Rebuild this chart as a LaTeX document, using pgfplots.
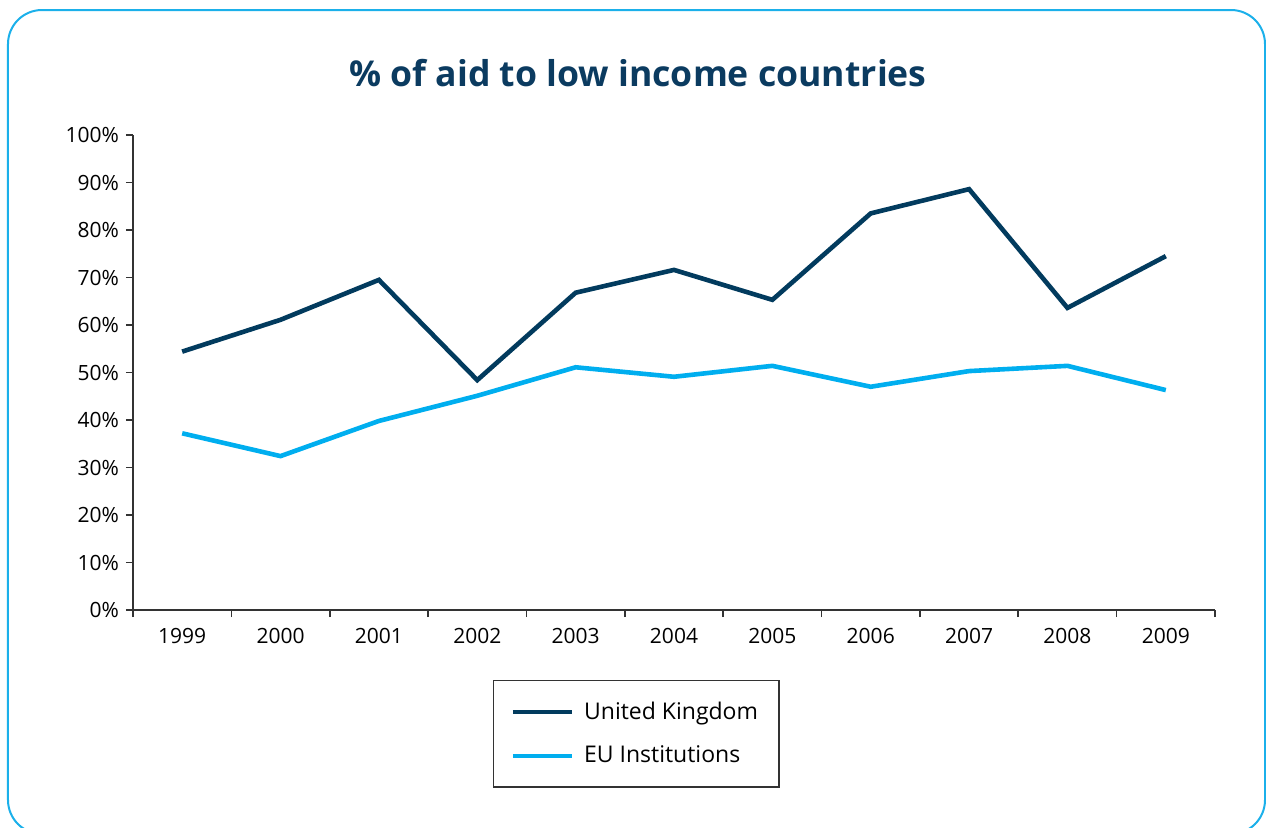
\documentclass[border=0pt]{standalone}
\usepackage{pgfplots}
\pgfplotsset{compat=1.18}
\usepackage{fontspec}
\setmainfont{Open Sans}
\definecolor{ukcol}{HTML}{023B5E}
\definecolor{eucol}{HTML}{00AEEF}
\definecolor{framecol}{HTML}{1BB0EA}
\definecolor{titlecol}{HTML}{0B3B60}
\definecolor{axcol}{HTML}{333333}
\begin{document}
\begin{tikzpicture}[x=1pt,y=1pt]
\useasboundingbox (-66.5,-108.5) rectangle (566.5,305);
\begin{scope}
\clip (-66.5,-108.5) rectangle (566.5,305);
\draw[framecol, line width=1pt, rounded corners=17pt] (-62.5,-112) rectangle (566,300);
\end{scope}
\node[font=\fontsize{17.8}{21}\selectfont\bfseries, text=titlecol] at (252.5,268.5) {\% of aid to low income countries};
\begin{axis}[
  at={(24.591pt,0pt)}, anchor=origin,
  scale only axis,
  width=541pt, height=237.5pt,
  xmin=-0.5, xmax=10.5, ymin=0, ymax=100,
  axis x line*=bottom, axis y line*=left,
  axis line style={axcol, line width=0.8pt},
  xtick={0,...,10},
  xticklabels={1999,2000,2001,2002,2003,2004,2005,2006,2007,2008,2009},
  minor xtick={-0.5,0.5,...,10.5},
  ytick={0,10,...,100},
  yticklabel={\pgfmathprintnumber{\tick}\%},
  tick align=outside,
  major tick length=3.5pt,
  minor tick length=3.5pt,
  x tick style={draw=none},
  minor x tick style={draw=axcol, line width=0.8pt},
  y tick style={axcol, line width=0.8pt},
  tick label style={font=\fontsize{10.5}{12}\selectfont, text=black},
  /pgf/number format/assume math mode=true,
  xticklabel style={yshift=-2pt},
  legend style={at={(0.3327,-0.1474)}, anchor=north west, draw=axcol, line width=0.6pt,
    font=\fontsize{11.5}{13}\selectfont, inner xsep=8.5pt, inner ysep=8.5pt, row sep=8pt,
    /tikz/every odd column/.append style={column sep=3pt}},
  legend cell align=left,
  legend image code/.code={\draw[#1, line width=2.3pt] (0pt,0pt) -- (29.5pt,0pt);},
]
\addplot[ukcol, line width=2.3pt] coordinates {
 (0,54.4) (1,61.1) (2,69.5) (3,48.4) (4,66.8) (5,71.6) (6,65.3) (7,83.5) (8,88.6) (9,63.6) (10,74.5)};
\addlegendentry{United Kingdom}
\addplot[eucol, line width=2.3pt] coordinates {
 (0,37.2) (1,32.4) (2,39.8) (3,45.1) (4,51.1) (5,49.1) (6,51.4) (7,47.0) (8,50.3) (9,51.4) (10,46.3)};
\addlegendentry{EU Institutions}
\end{axis}
\end{tikzpicture}
\end{document}
